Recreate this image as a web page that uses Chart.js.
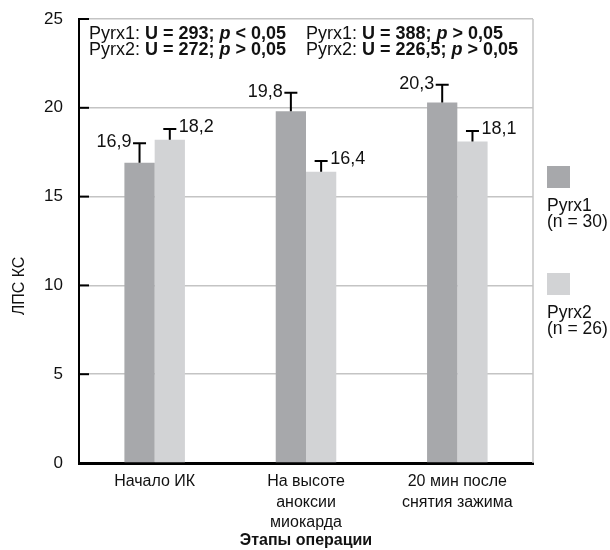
<!DOCTYPE html>
<html>
<head>
<meta charset="utf-8">
<script src="https://cdn.jsdelivr.net/npm/chart.js@4"></script>
<style>
html,body{margin:0;padding:0;background:#fff;}
#wrap{width:610px;height:550px;position:relative;}
</style>
</head>
<body>
<div id="wrap"><canvas id="c" width="610" height="550"></canvas></div>
<script>
const categories = [["Начало ИК"], ["На высоте", "аноксии", "миокарда"], ["20 мин после", "снятия зажима"]];
const seriesNames = ["Pyrx1", "Pyrx2"];
const seriesN = ["(n = 30)", "(n = 26)"];
const pyrx1 = [16.9, 19.8, 20.3];
const pyrx2 = [18.2, 16.4, 18.1];
const err1 = [1.1, 1.05, 1.0];
const err2 = [0.6, 0.6, 0.6];
const yTicks = [0, 5, 10, 15, 20, 25];
const yTitle = "ЛПС КС";
const xTitle = "Этапы операции";
const uValues = [["293", "272"], ["388", "226,5"]];
const pSigns = [["<", ">"], [">", ">"]];
const pLevel = "0,05";

const FONT = "'Liberation Sans', Arial, Helvetica, sans-serif";
const colors = ["#a7a8ab", "#d2d3d5"];
const errs = [err1, err2];

function fmt(v) { return String(v).replace('.', ','); }

const extras = {
  id: 'extras',
  beforeDatasetsDraw(chart) {
    const ctx = chart.ctx, a = chart.chartArea;
    ctx.save();
    ctx.strokeStyle = '#c4c4c4';
    ctx.lineWidth = 1.5;
    ctx.beginPath();
    ctx.moveTo(a.right, a.top);
    ctx.lineTo(a.right, a.bottom);
    ctx.stroke();
    ctx.restore();
  },
  afterDatasetsDraw(chart) {
    const ctx = chart.ctx, a = chart.chartArea, y = chart.scales.y;
    ctx.save();
    ctx.strokeStyle = '#000';
    ctx.lineWidth = 2;
    yTicks.forEach(t => {
      const py = y.getPixelForValue(t);
      ctx.beginPath();
      ctx.moveTo(a.left, py);
      ctx.lineTo(a.left + 10, py);
      ctx.stroke();
    });
    chart.data.datasets.forEach((ds, di) => {
      const meta = chart.getDatasetMeta(di);
      meta.data.forEach((bar, i) => {
        const v = ds.data[i];
        const top = y.getPixelForValue(v + errs[di][i]);
        ctx.strokeStyle = '#000';
        ctx.lineWidth = 2;
        ctx.beginPath();
        ctx.moveTo(bar.x, bar.y);
        ctx.lineTo(bar.x, top);
        ctx.moveTo(bar.x - 6.5, top);
        ctx.lineTo(bar.x + 6.5, top);
        ctx.stroke();
        ctx.fillStyle = '#111';
        ctx.font = "18px " + FONT;
        ctx.textBaseline = 'middle';
        if (di === 0) {
          ctx.textAlign = 'right';
          ctx.fillText(fmt(v), bar.x - 8, top - 1);
        } else {
          ctx.textAlign = 'left';
          ctx.fillText(fmt(v), bar.x + 9, top - 2);
        }
      });
    });
    ctx.restore();
  },
  afterDraw(chart) {
    const ctx = chart.ctx;
    ctx.save();
    ctx.fillStyle = '#111';
    ctx.font = "16px " + FONT;
    ctx.textAlign = 'center';
    ctx.textBaseline = 'middle';
    ctx.translate(20, 286);
    ctx.rotate(-Math.PI / 2);
    ctx.fillText(yTitle, 0, 0);
    ctx.restore();

    ctx.save();
    ctx.font = "17.5px " + FONT;
    ctx.textAlign = 'left';
    ctx.textBaseline = 'alphabetic';
    const legTop = [166, 273];
    seriesNames.forEach((n, i) => {
      ctx.fillStyle = colors[i];
      ctx.fillRect(547, legTop[i], 23, 22);
      ctx.fillStyle = '#111';
      ctx.fillText(n, 547, legTop[i] + 45);
      ctx.fillText(seriesN[i], 547, legTop[i] + 61);
    });
    ctx.restore();

    ctx.save();
    ctx.fillStyle = '#111';
    ctx.textBaseline = 'alphabetic';
    ctx.textAlign = 'left';
    const colX = [89, 306];
    const rowY = [39, 54.5];
    uValues.forEach((col, ci) => {
      col.forEach((u, gi) => {
        const segs = [
          [seriesNames[gi] + ": ", "normal 18px "],
          ["U = " + u + "; ", "bold 18px "],
          ["p", "italic bold 18px "],
          [" " + pSigns[ci][gi] + " " + pLevel, "bold 18px "]
        ];
        let x = colX[ci];
        segs.forEach(s => {
          ctx.font = s[1] + FONT;
          ctx.fillText(s[0], x, rowY[gi]);
          x += ctx.measureText(s[0]).width;
        });
      });
    });
    ctx.restore();
  }
};

new Chart(document.getElementById('c'), {
  type: 'bar',
  data: {
    labels: categories,
    datasets: [
      { label: seriesNames[0], data: pyrx1, backgroundColor: colors[0], borderWidth: 0 },
      { label: seriesNames[1], data: pyrx2, backgroundColor: colors[1], borderWidth: 0 }
    ]
  },
  options: {
    responsive: false,
    animation: false,
    devicePixelRatio: 1,
    layout: { padding: { top: 19, right: 77, left: 0, bottom: 0 } },
    plugins: { legend: { display: false }, tooltip: { enabled: false } },
    datasets: { bar: { categoryPercentage: 0.4, barPercentage: 1.0 } },
    scales: {
      x: {
        afterFit(s) { s.height = 87; s.paddingLeft = 0; s.paddingRight = 0; },
        grid: { display: false, drawTicks: false },
        border: { display: true, color: '#000', width: 3 },
        ticks: { color: '#111', font: { family: FONT, size: 16, lineHeight: 1.3 }, padding: 8, maxRotation: 0, autoSkip: false },
        title: { display: true, text: xTitle, color: '#111', font: { family: FONT, size: 16, weight: 'bold', lineHeight: 1.2 }, padding: { top: 0, bottom: 0 } }
      },
      y: {
        min: 0, max: 25,
        afterFit(s) { s.width = 79; s.paddingTop = 0; s.paddingBottom = 0; },
        afterBuildTicks(s) { s.ticks = yTicks.map(v => ({ value: v })); },
        grid: { color: '#c4c4c4', lineWidth: 1.5, drawTicks: false },
        border: { display: true, color: '#000', width: 2 },
        ticks: { color: '#111', font: { family: FONT, size: 17 }, padding: 16 }
      }
    }
  },
  plugins: [extras]
});
</script>
</body>
</html>
